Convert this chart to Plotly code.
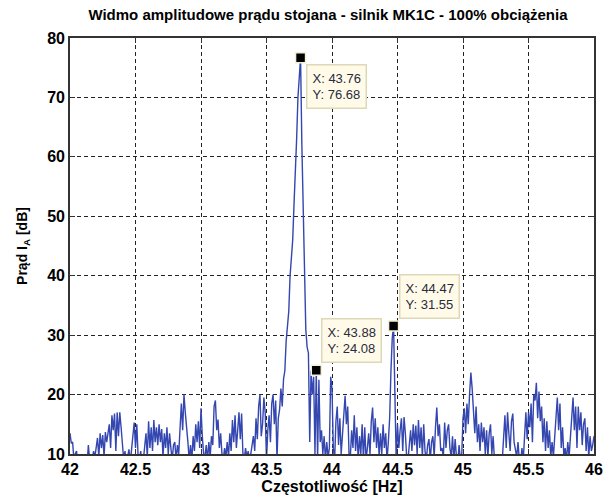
import numpy as np
import plotly.graph_objects as go

# Frequency axis: 42.00 ... 46.00 Hz in 0.01 Hz steps
f_start, f_step = 42.0, 0.01

# Stator current amplitude spectrum [dB], one row per 0.1 Hz
amp_db = [
    13.5, 11.8, 12.0, 9.0, 10.0, 10.5, 8.0, 9.0, 8.0, 9.5,        # 42.0
    8.5, 9.0, 9.5, 8.0, 11.5, 9.0, 8.0, 9.0, 10.5, 9.5,           # 42.1
    11.0, 12.7, 9.5, 13.5, 11.0, 13.2, 9.5, 13.7, 12.0, 13.9,     # 42.2
    15.0, 11.0, 16.5, 14.0, 16.8, 10.5, 17.0, 13.0, 17.0, 14.5,   # 42.3
    12.0, 9.0, 10.5, 8.0, 9.5, 10.8, 8.5, 11.0, 14.0, 15.3,       # 42.4
    11.0, 15.0, 9.5, 9.0, 10.5, 8.0, 9.0, 11.0, 13.5, 9.5,        # 42.5
    15.5, 11.0, 14.5, 10.5, 15.7, 12.0, 14.5, 11.5, 15.0, 12.0,   # 42.6
    14.2, 9.5, 13.5, 11.0, 14.5, 10.0, 13.5, 11.0, 9.0, 11.5,     # 42.7
    12.0, 9.0, 11.5, 10.0, 15.5, 18.5, 14.0, 20.0, 17.0, 15.0,    # 42.8
    12.0, 9.0, 11.5, 9.0, 13.0, 10.5, 15.0, 12.0, 15.5, 11.0,     # 42.9
    17.7, 13.0, 10.0, 9.5, 11.5, 9.0, 12.0, 9.5, 13.0, 11.5,      # 43.0
    18.0, 19.0, 14.0, 15.8, 11.0, 13.5, 10.0, 9.0, 11.0, 9.5,     # 43.1
    12.0, 9.5, 13.5, 10.5, 15.7, 12.0, 16.5, 11.0, 15.0, 17.0,    # 43.2
    12.5, 16.8, 10.0, 9.0, 11.0, 9.5, 10.5, 9.0, 10.0, 11.5,      # 43.3
    13.0, 10.5, 16.0, 12.5, 18.0, 20.0, 13.0, 15.0, 19.5, 17.0,   # 43.4
    9.0, 14.0, 16.5, 12.0, 18.5, 20.0, 15.0, 19.0, 9.0, 16.0,     # 43.5
    17.5, 21.0, 18.0, 22.6, 24.0, 29.0, 31.0, 34.0, 40.0, 43.0,   # 43.6
    46.0, 52.0, 57.0, 63.0, 70.0, 74.5, 76.68, 62.0, 51.0, 36.0,  # 43.7
    31.0, 28.0, 27.0, 12.0, 24.0, 20.0, 23.0, 10.0, 24.08, 9.0,   # 43.8
    22.5, 12.0, 14.0, 10.0, 13.0, 9.0, 12.0, 9.5, 11.0, 23.0,     # 43.9
    21.0, 11.0, 9.0, 15.5, 18.0, 11.5, 16.0, 10.0, 14.0, 17.0,    # 44.0
    19.8, 15.0, 18.0, 10.0, 9.5, 14.0, 11.0, 16.5, 10.5, 14.5,    # 44.1
    9.0, 13.0, 10.0, 15.0, 9.0, 14.5, 9.0, 11.0, 13.5, 10.0,      # 44.2
    15.5, 17.8, 12.0, 16.0, 11.0, 14.5, 9.5, 13.5, 10.0, 15.0,    # 44.3
    11.0, 13.5, 9.0, 12.0, 16.0, 24.0, 29.5, 31.55, 22.0, 9.0,    # 44.4
    15.0, 11.0, 14.0, 16.0, 10.5, 16.2, 13.5, 9.5, 9.0, 11.0,     # 44.5
    14.0, 10.5, 15.0, 11.5, 14.8, 10.0, 15.7, 11.0, 14.5, 9.5,    # 44.6
    15.0, 10.5, 9.0, 11.5, 12.5, 9.0, 12.0, 13.0, 9.5, 14.5,      # 44.7
    17.8, 13.0, 15.0, 10.5, 11.0, 9.5, 15.3, 11.0, 14.0, 15.0,    # 44.8
    11.0, 9.5, 13.0, 9.0, 12.5, 9.5, 8.5, 11.5, 9.0, 9.5,         # 44.9
    16.0, 17.7, 13.5, 18.5, 15.0, 20.0, 23.7, 21.0, 17.0, 13.5,   # 45.0
    18.0, 12.0, 15.0, 10.5, 15.3, 12.0, 14.5, 10.0, 14.0, 9.5,    # 45.1
    13.5, 15.0, 10.0, 13.0, 9.0, 8.5, 9.0, 8.0, 9.5, 8.5,         # 45.2
    9.0, 12.0, 16.5, 11.0, 17.0, 13.5, 10.5, 15.5, 16.8, 12.0,    # 45.3
    11.0, 9.5, 12.0, 9.0, 8.5, 11.0, 9.0, 13.0, 17.0, 12.5,       # 45.4
    17.0, 14.5, 18.5, 12.0, 20.0, 19.0, 22.0, 16.0, 20.5, 15.5,   # 45.5
    18.0, 12.0, 16.0, 10.5, 15.5, 11.0, 14.0, 9.5, 12.0, 9.5,     # 45.6
    13.0, 15.5, 19.5, 14.0, 18.5, 11.0, 14.5, 9.5, 11.0, 9.0,     # 45.7
    12.0, 9.5, 13.0, 16.0, 19.5, 14.0, 18.0, 11.0, 18.0, 14.0,    # 45.8
    17.0, 11.5, 15.0, 16.0, 10.5, 14.5, 9.5, 13.0, 10.5, 11.5,    # 45.9
    13.0,                                                          # 46.0
]

freq = np.round(f_start + f_step * np.arange(len(amp_db)), 2)

# Data cursors (frequency, amplitude) and the side of the point their box sits on
tip_x = [43.76, 43.88, 44.47]
tip_y = [76.68, 24.08, 31.55]
tip_side = ["below", "above", "above"]

x_ticks = [42, 42.5, 43, 43.5, 44, 44.5, 45, 45.5, 46]
y_ticks = [10, 20, 30, 40, 50, 60, 70, 80]

title_text = "Widmo amplitudowe prądu stojana - silnik MK1C - 100% obciążenia"
x_title = "Częstotliwość [Hz]"
y_title = "Prąd I<sub>A</sub> [dB]"

FONT = "Liberation Sans, Arial, sans-serif"

fig = go.Figure()

fig.add_trace(go.Scatter(
    x=freq, y=amp_db, mode="lines",
    line=dict(color="#3446b0", width=1.4),
    hoverinfo="skip", showlegend=False,
))

fig.add_trace(go.Scatter(
    x=tip_x, y=tip_y, mode="markers",
    marker=dict(symbol="square", size=10, color="black",
                line=dict(color="#f4f0d8", width=1.5)),
    showlegend=False, cliponaxis=False,
))

for fx, fy, side in zip(tip_x, tip_y, tip_side):
    fig.add_annotation(
        x=fx, y=fy, xref="x", yref="y",
        text=f"X: {fx:.2f}<br>Y: {fy:.2f}",
        showarrow=False, align="left",
        xanchor="left",
        yanchor="top" if side == "below" else "bottom",
        xshift=5, yshift=-6 if side == "below" else 7,
        bgcolor="#fffbe8", bordercolor="#ddd8b8", borderwidth=1.5,
        borderpad=5,
        font=dict(family=FONT, size=13, color="#2a2a40"),
    )

axis_common = dict(
    showline=True, linecolor="#333333", linewidth=1.6, mirror="ticks",
    ticks="inside", ticklen=5, tickcolor="#333333",
    showgrid=True, gridcolor="#222222", gridwidth=1.2, griddash="4px,3px",
    zeroline=False,
    tickfont=dict(family=FONT, size=16, color="black", weight="bold"),
)

fig.update_xaxes(
    range=[42, 46], tickvals=x_ticks,
    ticktext=[f"{t:g}" for t in x_ticks],
    title=dict(text=x_title, standoff=3,
               font=dict(family=FONT, size=16, color="black", weight="bold")),
    **axis_common,
)
fig.update_yaxes(
    range=[10, 80], tickvals=y_ticks,
    title=dict(text=y_title, standoff=16,
               font=dict(family=FONT, size=14, color="black", weight="bold")),
    **axis_common,
)

fig.update_layout(
    width=613, height=502,
    margin=dict(l=70, r=10, t=38, b=43),
    paper_bgcolor="white", plot_bgcolor="white",
    title=dict(text=title_text, x=0.535, xanchor="center", y=0.97, yanchor="middle",
               font=dict(family=FONT, size=15, color="black", weight="bold")),
)

fig.write_html("out.html")
